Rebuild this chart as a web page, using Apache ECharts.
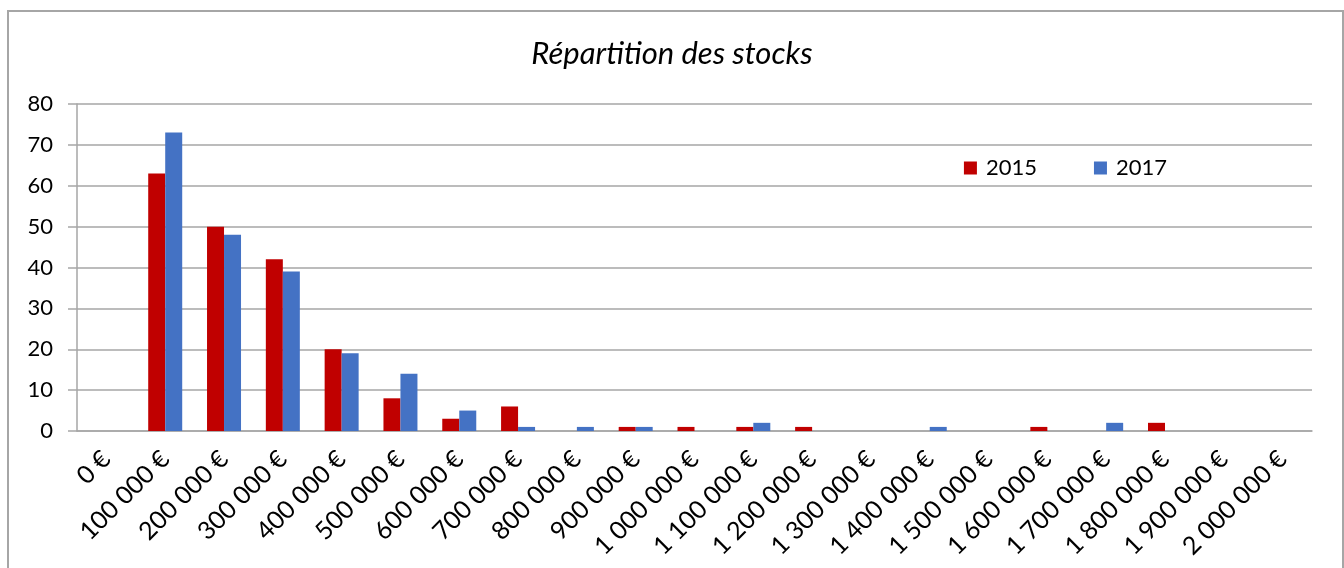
<!DOCTYPE html>
<html>
<head>
<meta charset="utf-8">
<script src="https://cdn.jsdelivr.net/npm/echarts@6/dist/echarts.min.js"></script>
<style>
  html, body { margin: 0; padding: 0; background: #fff; }
  #chart { width: 1344px; height: 568px; }
  .frame {
    position: absolute; left: 7px; top: 10px; width: 1333px; height: 570px;
    border: 2px solid #a6a6a6; border-bottom: none; pointer-events: none;
  }
</style>
</head>
<body>
<div id="chart"></div>
<div class="frame"></div>
<script>
// tranches de valeur
const categories = ['0 €', '100 000 €', '200 000 €', '300 000 €', '400 000 €', '500 000 €',
  '600 000 €', '700 000 €', '800 000 €', '900 000 €', '1 000 000 €', '1 100 000 €',
  '1 200 000 €', '1 300 000 €', '1 400 000 €', '1 500 000 €', '1 600 000 €',
  '1 700 000 €', '1 800 000 €', '1 900 000 €', '2 000 000 €'];
const values2015 = [0, 63, 50, 42, 20, 8, 3, 6, 0, 1, 1, 1, 1, 0, 0, 0, 1, 0, 2, 0, 0];
const values2017 = [0, 73, 48, 39, 19, 14, 5, 1, 1, 1, 0, 2, 0, 0, 1, 0, 0, 2, 0, 0, 0];

const font = 'Lato, "Open Sans", sans-serif';
let myChart = echarts.init(document.getElementById('chart'));
myChart.setOption({
  animation: false,
  title: {
    text: 'Répartition des stocks',
    left: 'center',
    top: 33,
    textStyle: { fontFamily: font, fontStyle: 'italic', fontWeight: 'normal', fontSize: 31, color: '#000' }
  },
  legend: {
    right: 172,
    top: 152,
    itemWidth: 13,
    itemHeight: 13,
    itemGap: 57,
    icon: 'rect',
    textStyle: { fontFamily: font, fontSize: 22, color: '#000', padding: [0, 0, 0, 4] },
    data: ['2015', '2017']
  },
  grid: { left: 77, right: 32, top: 104, bottom: 137 },
  xAxis: {
    type: 'category',
    data: categories,
    axisLine: { lineStyle: { color: '#a6a6a6', width: 1.5 } },
    axisTick: { length: 8, lineStyle: { color: '#a6a6a6', width: 1.5 } },
    axisLabel: { rotate: 45, interval: 0, fontFamily: font, fontSize: 25, color: '#000', margin: 24 }
  },
  yAxis: {
    type: 'value',
    min: 0,
    max: 80,
    interval: 10,
    axisLine: { show: true, lineStyle: { color: '#a6a6a6', width: 1.5 } },
    axisTick: { show: true, length: 9, lineStyle: { color: '#a6a6a6', width: 1.5 } },
    splitLine: { lineStyle: { color: '#a6a6a6', width: 1.5 } },
    axisLabel: { fontFamily: font, fontSize: 22, color: '#000', margin: 24 }
  },
  series: [
    { name: '2015', type: 'bar', data: values2015, barWidth: 17, barGap: '0%',
      itemStyle: { color: '#c00000' } },
    { name: '2017', type: 'bar', data: values2017, barWidth: 17, barGap: '0%',
      itemStyle: { color: '#4472c4' } }
  ]
});
</script>
</body>
</html>
